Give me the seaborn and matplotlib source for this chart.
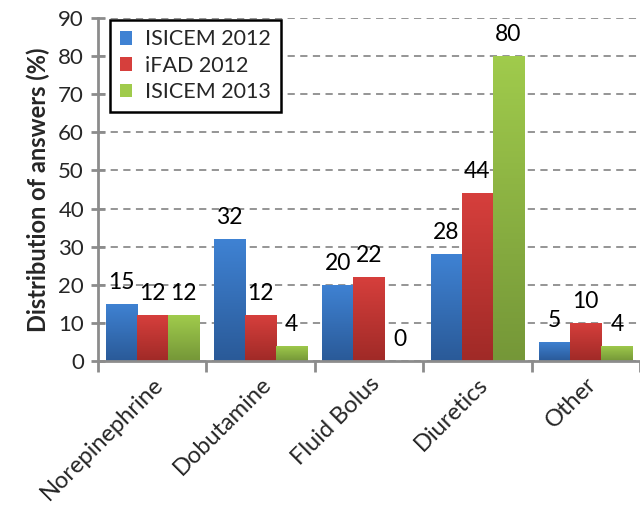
import numpy as np
import pandas as pd
import matplotlib
matplotlib.use("Agg")
import matplotlib.pyplot as plt
import seaborn as sns
from matplotlib.colors import LinearSegmentedColormap

categories = ["Norepinephrine", "Dobutamine", "Fluid Bolus", "Diuretics", "Other"]
series_names = ["ISICEM 2012", "iFAD 2012", "ISICEM 2013"]
isicem_2012 = [15, 32, 20, 28, 5]
ifad_2012 = [12, 12, 22, 44, 10]
isicem_2013 = [12, 4, 0, 80, 4]
yticks = [0, 10, 20, 30, 40, 50, 60, 70, 80, 90]

colors_top = ["#3F82D3", "#D63F3C", "#A0CB4C"]
colors_bot = ["#2A5A98", "#A02A27", "#759738"]

df = pd.DataFrame({
    "category": categories * 3,
    "series": sum([[s] * len(categories) for s in series_names], []),
    "value": isicem_2012 + ifad_2012 + isicem_2013,
})

sns.set_theme(style="white")
plt.rcParams["font.family"] = ["Lato", "DejaVu Sans"]

fig = plt.figure(figsize=(6.4, 5.27), dpi=100)
ax = fig.add_axes([0.153, 0.315, 0.847, 0.651])

sns.barplot(data=df, x="category", y="value", hue="series", order=categories,
            hue_order=series_names, palette=colors_top, width=0.86,
            saturation=1, ax=ax, edgecolor="none", linewidth=0, legend=True)

# gradient fill
for ci, cont in enumerate(ax.containers):
    cmap = LinearSegmentedColormap.from_list("g", [colors_bot[ci], colors_top[ci]])
    grad = np.linspace(0, 1, 100).reshape(-1, 1)
    for p in cont.patches:
        x0, y0 = p.get_x(), p.get_y()
        w, h = p.get_width(), p.get_height()
        if h <= 0:
            continue
        im = ax.imshow(grad, extent=[x0, x0 + w, y0, y0 + h], origin="lower",
                       cmap=cmap, aspect="auto", zorder=p.get_zorder() + 0.1)
        im.set_clip_path(p)
    ax.bar_label(cont, labels=[f"{v:g}" for v in cont.datavalues], padding=8,
                 fontsize=16.5, color="black")

ax.set_xlim(-0.5, 4.5)
ax.set_ylim(0, 90)
ax.set_yticks(yticks)
ax.set_yticklabels([str(t) for t in yticks], fontsize=16)
ax.yaxis.grid(True, linestyle=(0, (4, 3)), color="#8c8c8c", linewidth=1.3)
ax.set_axisbelow(True)

# category ticks at boundaries
ax.set_xticks(np.arange(len(categories)))
ax.set_xticklabels(categories, rotation=45, ha="right", rotation_mode="anchor",
                   fontsize=17)
ax.tick_params(axis="x", length=0, pad=9)
ax.set_xticks(np.arange(-0.5, len(categories), 1.0), minor=True)
ax.tick_params(axis="x", which="minor", length=8, width=2, color="#8c8c8c",
               direction="out", bottom=True)
ax.tick_params(axis="y", length=10, width=2, color="#8c8c8c", direction="inout",
               left=True, pad=5)

for s in ["top", "right"]:
    ax.spines[s].set_visible(False)
for s in ["left", "bottom"]:
    ax.spines[s].set_color("#8c8c8c")
    ax.spines[s].set_linewidth(2)

ax.set_xlabel("")
ax.set_ylabel("Distribution of answers (%)", fontsize=17, fontweight="bold",
              labelpad=6)

leg = ax.legend(loc="upper left", bbox_to_anchor=(0.022, 0.995), fontsize=15.5,
                frameon=True, fancybox=False, edgecolor="black", framealpha=1,
                handlelength=0.6, handleheight=0.6, handletextpad=0.6,
                borderpad=0.45, labelspacing=0.3, borderaxespad=0, title=None)
leg.get_frame().set_linewidth(1.8)

fig.savefig("out.png", dpi=100)
